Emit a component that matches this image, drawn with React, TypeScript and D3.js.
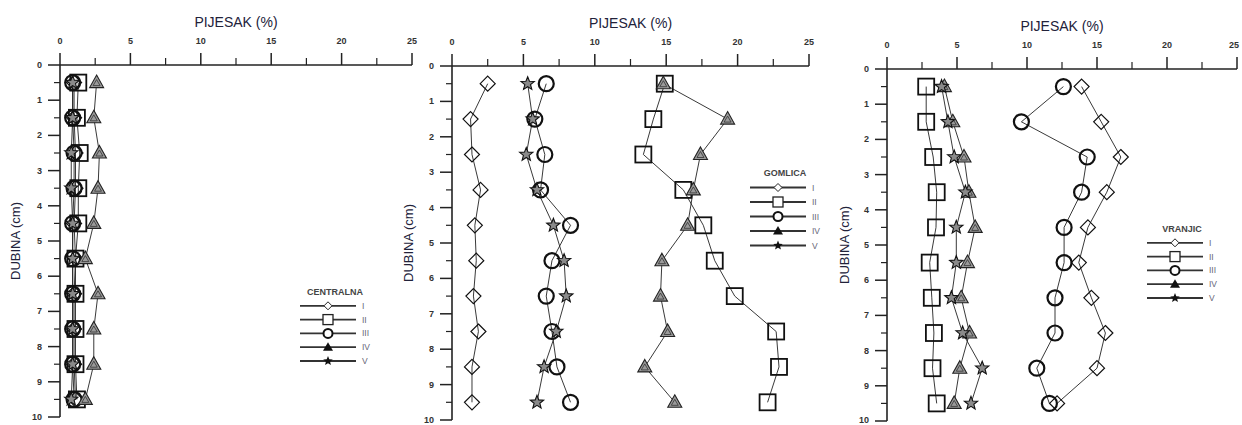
import React from 'react';
import * as d3 from 'd3';

// depth of each sample (cm)
const depths = [0.5, 1.5, 2.5, 3.5, 4.5, 5.5, 6.5, 7.5, 8.5, 9.5];
const seriesNames = ['I', 'II', 'III', 'IV', 'V'];
const xTicks = [0, 5, 10, 15, 20, 25];
const yTicks = [0, 1, 2, 3, 4, 5, 6, 7, 8, 9, 10];

// CENTRALNA
const centralnaI = [1.0, 1.0, 1.1, 1.1, 1.0, 1.1, 1.0, 1.0, 1.0, 1.1];
const centralnaII = [1.3, 1.2, 1.4, 1.3, 1.3, 1.1, 1.1, 1.1, 1.1, 1.2];
const centralnaIII = [0.9, 0.9, 1.0, 1.0, 0.9, 0.9, 0.9, 0.9, 0.9, 1.0];
const centralnaIV = [2.6, 2.4, 2.8, 2.7, 2.4, 1.8, 2.7, 2.4, 2.4, 1.8];
const centralnaV = [0.9, 0.9, 0.8, 0.8, 0.9, 0.9, 0.9, 0.9, 0.9, 0.8];

// GOMLICA
const gomlicaI = [2.5, 1.3, 1.4, 2.0, 1.6, 1.7, 1.5, 1.85, 1.4, 1.4];
const gomlicaII = [14.9, 14.1, 13.4, 16.2, 17.6, 18.4, 19.8, 22.7, 22.9, 22.1];
const gomlicaIII = [6.6, 5.8, 6.5, 6.2, 8.3, 7.0, 6.6, 7.0, 7.35, 8.3];
const gomlicaIV = [14.8, 19.3, 17.4, 16.9, 16.5, 14.7, 14.6, 15.1, 13.5, 15.6];
const gomlicaV = [5.3, 5.65, 5.2, 5.95, 7.1, 7.85, 8.0, 7.3, 6.45, 5.95];

// VRANJIC
const vranjicI = [13.9, 15.3, 16.7, 15.7, 14.35, 13.7, 14.6, 15.6, 15.0, 12.15];
const vranjicII = [2.8, 2.8, 3.3, 3.55, 3.5, 3.05, 3.2, 3.35, 3.25, 3.55];
const vranjicIII = [12.6, 9.6, 14.3, 13.9, 12.65, 12.65, 12.0, 12.0, 10.7, 11.6];
const vranjicIV = [4.1, 4.7, 5.5, 5.85, 6.3, 5.75, 5.3, 5.9, 5.2, 4.8];
const vranjicV = [3.9, 4.35, 4.8, 5.6, 4.95, 4.95, 4.6, 5.4, 6.8, 6.0];

const panels = [
  { name: 'CENTRALNA', series: [centralnaI, centralnaII, centralnaIII, centralnaIV, centralnaV],
    x0: 60, x1: 412, yTop: 65, yBot: 417, titleY: 27, labelX: 20, legX: 300, legY: 292, legStep: 13.8 },
  { name: 'GOMLICA', series: [gomlicaI, gomlicaII, gomlicaIII, gomlicaIV, gomlicaV],
    x0: 452, x1: 809, yTop: 66, yBot: 420, titleY: 28, labelX: 413, legX: 750, legY: 173, legStep: 14.5 },
  { name: 'VRANJIC', series: [vranjicI, vranjicII, vranjicIII, vranjicIV, vranjicV],
    x0: 887, x1: 1237, yTop: 69, yBot: 421, titleY: 31, labelX: 849, legX: 1147, legY: 229, legStep: 13.8 },
];

const starPath = (ro: number, ri: number) => {
  const pts: [number, number][] = [];
  for (let i = 0; i < 10; i++) {
    const r = i % 2 === 0 ? ro : ri;
    const a = -Math.PI / 2 + (i * Math.PI) / 5;
    pts.push([r * Math.cos(a), r * Math.sin(a)]);
  }
  return 'M' + pts.map(p => p.join(',')).join('L') + 'Z';
};

// big markers on the chart
const Marker = ({ kind, x, y }: { kind: number; x: number; y: number }) => {
  const t = `translate(${x},${y})`;
  if (kind === 0)
    return <path transform={t} d="M0,-7.5L7.5,0L0,7.5L-7.5,0Z" fill="none" stroke="#111" strokeWidth={1.2} />;
  if (kind === 1)
    return <rect transform={t} x={-8} y={-8} width={16} height={16} fill="none" stroke="#111" strokeWidth={1.8} />;
  if (kind === 2)
    return <circle transform={t} r={7.5} fill="none" stroke="#111" strokeWidth={2.2} />;
  if (kind === 3)
    return (
      <g transform={t}>
        <path d="M0,-7.5L7,5L-7,5Z" fill="#9a9a9a" stroke="#222" strokeWidth={1.1} />
        <path d="M0,-3L3.5,3L-3.5,3Z" fill="none" stroke="#333" strokeWidth={0.8} />
      </g>
    );
  return <path transform={t} d={starPath(7, 3)} fill="#8a8a8a" stroke="#111" strokeWidth={1.1} />;
};

// small legend markers
const LegendMarker = ({ kind, x, y }: { kind: number; x: number; y: number }) => {
  const t = `translate(${x},${y})`;
  if (kind === 0)
    return <path transform={t} d="M0,-4L4,0L0,4L-4,0Z" fill="#fff" stroke="#222" strokeWidth={1} />;
  if (kind === 1)
    return <rect transform={t} x={-5} y={-5} width={10} height={10} fill="#fff" stroke="#222" strokeWidth={1.3} />;
  if (kind === 2)
    return <circle transform={t} r={4.5} fill="#fff" stroke="#111" strokeWidth={2} />;
  if (kind === 3) return <path transform={t} d="M0,-5L5,3.5L-5,3.5Z" fill="#111" />;
  return <path transform={t} d={starPath(5, 2.2)} fill="#111" />;
};

const Panel = ({ p }: { p: typeof panels[number] }) => {
  const x = d3.scaleLinear().domain([0, 25]).range([p.x0, p.x1]);
  const y = d3.scaleLinear().domain([0, 10]).range([p.yTop, p.yBot]);
  const line = d3.line<number>().x(d => x(d)).y((_, i) => y(depths[i]));
  const minorX = d3.range(2.5, 25, 5);
  const minorY = d3.range(0.5, 10, 1);
  return (
    <g>
      <text x={(p.x0 + p.x1) / 2} y={p.titleY} textAnchor="middle" fontSize={14} fill="#22223a">PIJESAK (%)</text>
      {xTicks.map(t => (
        <g key={'xt' + t}>
          <line x1={x(t)} x2={x(t)} y1={p.yTop} y2={p.yTop - 12} stroke="#222" strokeWidth={1.5} />
          <text x={Math.min(x(t), 1234)} y={p.yTop - 21} textAnchor="middle" fontSize={9} fill="#333" fontWeight="bold">{t}</text>
        </g>
      ))}
      {minorX.map(t => (
        <line key={'xm' + t} x1={x(t)} x2={x(t)} y1={p.yTop} y2={p.yTop - 7} stroke="#222" strokeWidth={1.2} />
      ))}
      {yTicks.map(t => (
        <g key={'yt' + t}>
          <line x1={p.x0} x2={p.x0 - 12} y1={y(t)} y2={y(t)} stroke="#222" strokeWidth={1.5} />
          <text x={p.x0 - 18} y={Math.min(y(t) + 3, 423)} textAnchor="end" fontSize={9} fill="#333" fontWeight="bold">{t}</text>
        </g>
      ))}
      {minorY.map(t => (
        <line key={'ym' + t} x1={p.x0} x2={p.x0 - 6} y1={y(t)} y2={y(t)} stroke="#222" strokeWidth={1.2} />
      ))}
      <line x1={p.x0} x2={p.x1} y1={p.yTop} y2={p.yTop} stroke="#222" strokeWidth={1.6} />
      <line x1={p.x0} x2={p.x0} y1={p.yTop} y2={p.yBot} stroke="#222" strokeWidth={1.6} />
      <text transform={`translate(${p.labelX},${(p.yTop + p.yBot) / 2}) rotate(-90)`} textAnchor="middle"
        fontSize={13} fill="#22223a">DUBINA (cm)</text>
      {p.series.map((s, k) => (
        <path key={'l' + k} d={line(s) || ''} fill="none" stroke="#222" strokeWidth={0.9} />
      ))}
      {p.series.map((s, k) => s.map((v, i) => <Marker key={k + '-' + i} kind={k} x={x(v)} y={y(depths[i])} />))}
      <text x={p.legX + 35} y={p.legY + 3} textAnchor="middle" fontSize={9} fontWeight="bold" fill="#444">{p.name}</text>
      {seriesNames.map((n, k) => {
        const ly = p.legY + (k + 1) * p.legStep;
        return (
          <g key={'lg' + k}>
            <line x1={p.legX} x2={p.legX + 56} y1={ly} y2={ly} stroke="#333" strokeWidth={1.8} />
            <LegendMarker kind={k} x={p.legX + 28} y={ly} />
            <text x={p.legX + 62} y={ly + 3} fontSize={8.5} fill="#667">{n}</text>
          </g>
        );
      })}
    </g>
  );
};

export default function App() {
  return (
    <div style={{ position: 'absolute', left: 0, top: 0, width: 1242, height: 425, background: '#fff' }}>
      <svg width={1242} height={425} style={{ fontFamily: 'Liberation Sans, Arial, sans-serif', display: 'block' }}>
        {panels.map(p => <Panel key={p.name} p={p} />)}
      </svg>
    </div>
  );
}
